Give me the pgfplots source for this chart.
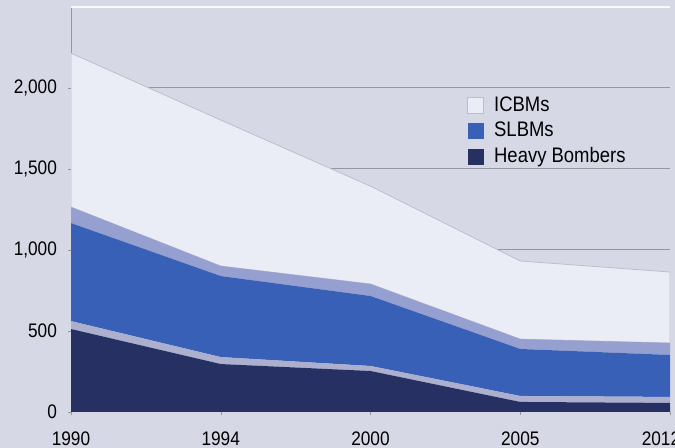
\documentclass[border=0pt]{standalone}
\usepackage{pgfplots}
\pgfplotsset{compat=1.18}
\usepackage{fontspec}
\setmainfont{Liberation Sans}[FakeStretch=0.88]

\definecolor{bg}{RGB}{214,216,229}
\definecolor{icbm}{RGB}{235,237,246}
\definecolor{icbmedge}{RGB}{188,190,204}
\definecolor{slbm}{RGB}{55,96,182}
\definecolor{slbmband}{RGB}{150,160,208}
\definecolor{bomber}{RGB}{38,48,98}
\definecolor{bomberband}{RGB}{172,176,206}
\definecolor{gridgray}{RGB}{150,150,160}

\begin{document}
\begin{tikzpicture}
\path[use as bounding box, fill=bg] (0,0) rectangle (337.5pt,224pt);
\begin{axis}[
  at={(35.5pt,18pt)}, anchor=south west,
  scale only axis,
  width=299.5pt, height=202.5pt,
  xmin=0, xmax=4,
  ymin=0, ymax=2500,
  stack plots=y,
  axis x line*=bottom, axis y line*=left,
  axis line style={gridgray, line width=0.5pt},
  xtick={0,1,2,3,4},
  xticklabels={1990,1994,2000,2005,{\hspace*{-9pt}2012}},
  ytick={0,500,1000,1500,2000},
  yticklabels={{0},{500},{1,000},{1,500},{2,000}},
  extra y ticks={2500},
  extra y tick labels={},
  extra y tick style={grid style={white!85!bg, line width=0.6pt}, major tick length=0pt},
  ymajorgrids=true,
  grid style={gridgray, line width=0.5pt},
  tick align=outside,
  major tick length=1.5pt,
  tick style={gridgray},
  tick label style={font=\fontsize{9.8}{10}\selectfont, text=black},
  yticklabel style={xshift=-2pt},
  xticklabel style={yshift=-5pt},
  /pgf/number format/assume math mode=true,
  reverse legend,
  legend style={draw=none, fill=none, at={(0.651,0.80)}, anchor=north west,
    font=\fontsize{10.5}{12}\selectfont, row sep=0pt},
  legend cell align=left,
  legend image code/.code={\fill[#1] (0pt,-4pt) rectangle (8pt,4pt); \path (11pt,0pt);},
]
\addplot[fill=bomber, draw=none] coordinates {(0,512)(1,296)(2,253)(3,62)(4,56)} \closedcycle;
\addlegendentry{Heavy Bombers}
\addplot[fill=bomberband, draw=none, forget plot] coordinates {(0,49)(1,43)(2,31)(3,37)(4,37)} \closedcycle;
\addplot[fill=slbm, draw=none] coordinates {(0,605)(1,500)(2,432)(3,290)(4,259)} \closedcycle;
\addlegendentry{SLBMs}
\addplot[fill=slbmband, draw=none, forget plot] coordinates {(0,99)(1,62)(2,74)(3,61)(4,74)} \closedcycle;
\addplot[fill=icbm, draw=icbmedge, line width=0.4pt] coordinates {(0,950)(1,901)(2,604)(3,482)(4,438)} \closedcycle;
\addlegendentry{ICBMs}
\end{axis}
\end{tikzpicture}
\end{document}
